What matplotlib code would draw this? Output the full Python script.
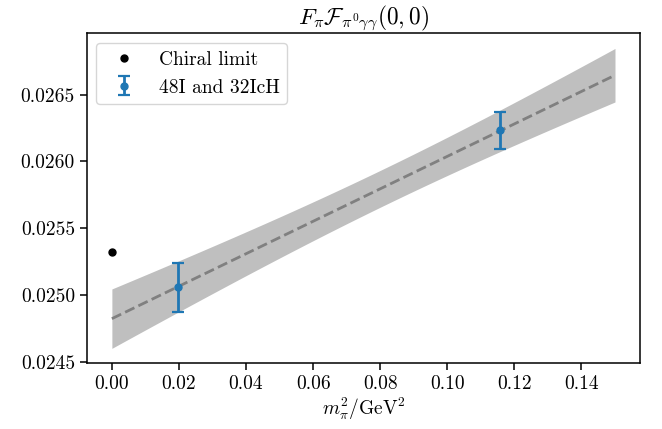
import numpy as np
import matplotlib
matplotlib.use("Agg")
import matplotlib.pyplot as plt

plt.rcParams.update({
    "font.family": "serif",
    "font.serif": ["cmr10"],
    "mathtext.fontset": "cm",
    "axes.formatter.use_mathtext": True,
    "font.size": 14,
    "axes.unicode_minus": False,
    "axes.linewidth": 1.1,
})

# Data
chiral_x = [0.0]
chiral_y = [0.025325]

ens_x = [0.0197, 0.1157]
ens_y = [0.025058, 0.026232]
ens_err = [0.00018, 0.00014]

# Linear fit parameters: y = a + b * x
fit_a = 0.024825
fit_b = 0.01213
fit_sa = 0.000222
fit_sb = 0.00213
fit_rho = -0.785
fit_xrange = [0.0, 0.15]

fig = plt.figure(figsize=(6.62, 4.29), dpi=100)
ax = fig.add_axes([0.131, 0.153, 0.836, 0.769])

xs = np.linspace(fit_xrange[0], fit_xrange[1], 200)
ys = fit_a + fit_b * xs
sig = np.sqrt(fit_sa**2 + 2 * fit_rho * fit_sa * fit_sb * xs + fit_sb**2 * xs**2)

ax.fill_between(xs, ys - sig, ys + sig, color="grey", alpha=0.5, lw=0)
ax.plot(xs, ys, ls="--", color="grey", lw=2)
ax.plot(chiral_x, chiral_y, "o", color="black", ms=5, label="Chiral limit")
ax.errorbar(ens_x, ens_y, yerr=ens_err, fmt="o", color="C0", ms=5,
            capsize=4.5, elinewidth=2, capthick=1.6, label="48I and 32IcH")

ax.set_xticks([0.00, 0.02, 0.04, 0.06, 0.08, 0.10, 0.12, 0.14])
ax.set_xticklabels(["0.00", "0.02", "0.04", "0.06", "0.08", "0.10", "0.12", "0.14"])
ax.set_yticks([0.0245, 0.0250, 0.0255, 0.0260, 0.0265])
ax.set_yticklabels(["0.0245", "0.0250", "0.0255", "0.0260", "0.0265"])
ax.tick_params(length=5, width=1.1)

ax.set_xlabel(r"$m_\pi^2/\mathrm{GeV}^2$", labelpad=2)
ax.set_title(r"$F_\pi \mathcal{F}_{\pi^0\gamma\gamma}(0,0)$", pad=6)
ax.legend(loc="upper left")

fig.savefig("out.png", dpi=100)
